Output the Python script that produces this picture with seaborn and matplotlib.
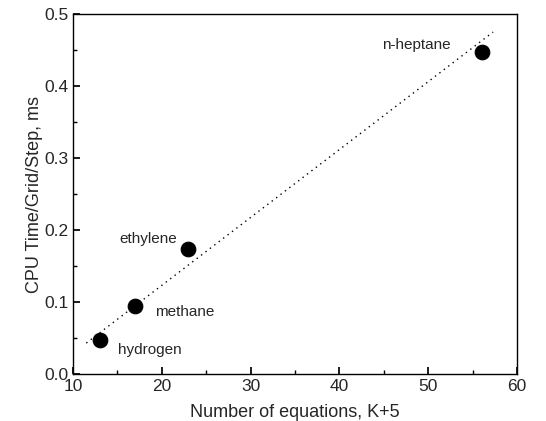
import matplotlib
matplotlib.use("Agg")
import matplotlib.pyplot as plt
import seaborn as sns
import pandas as pd
from matplotlib.ticker import MultipleLocator

fuels = ["hydrogen", "methane", "ethylene", "n-heptane"]
n_equations = [13, 17, 23, 56]
cpu_time = [0.047, 0.094, 0.174, 0.447]
fit_x = [11.5, 57.3]
fit_y = [0.043, 0.475]

sns.set_theme(style="ticks")
plt.rcParams['font.family'] = ['Liberation Sans', 'DejaVu Sans']

fig = plt.figure(figsize=(5.46, 4.21), dpi=100)
ax = fig.add_axes([0.1337, 0.1116, 0.8133, 0.855])

df = pd.DataFrame({"x": n_equations, "y": cpu_time, "fuel": fuels})
sns.lineplot(x=fit_x, y=fit_y, ax=ax, color="black", linestyle=(0, (1, 3)), linewidth=1.0)
sns.scatterplot(data=df, x="x", y="y", ax=ax, color="black", s=110, edgecolor="black", zorder=3)

offsets = {"hydrogen": (36, -7), "methane": (36, -4), "ethylene": (-29, 7), "n-heptane": (-47, 5)}
for f, x, y in zip(fuels, n_equations, cpu_time):
    ax.annotate(f, (x, y), xytext=offsets[f], textcoords="offset points",
                ha="center", va="center", fontsize=11)

ax.set_xlim(10, 60)
ax.set_ylim(0, 0.5)
ax.xaxis.set_major_locator(MultipleLocator(10))
ax.xaxis.set_minor_locator(MultipleLocator(5))
ax.yaxis.set_major_locator(MultipleLocator(0.1))
ax.yaxis.set_minor_locator(MultipleLocator(0.05))
ax.yaxis.set_major_formatter(matplotlib.ticker.FormatStrFormatter('%.1f'))
ax.tick_params(which="both", direction="in", top=False, right=False, labelsize=12.5, color="black")
ax.tick_params(which="major", length=5)
ax.tick_params(which="minor", length=3)
for s in ax.spines.values():
    s.set_color("black")
    s.set_linewidth(1.0)
ax.set_xlabel("Number of equations, K+5", fontsize=13, labelpad=7)
ax.set_ylabel("CPU Time/Grid/Step, ms", fontsize=13, labelpad=1)
fig.savefig("out.png", dpi=100)
